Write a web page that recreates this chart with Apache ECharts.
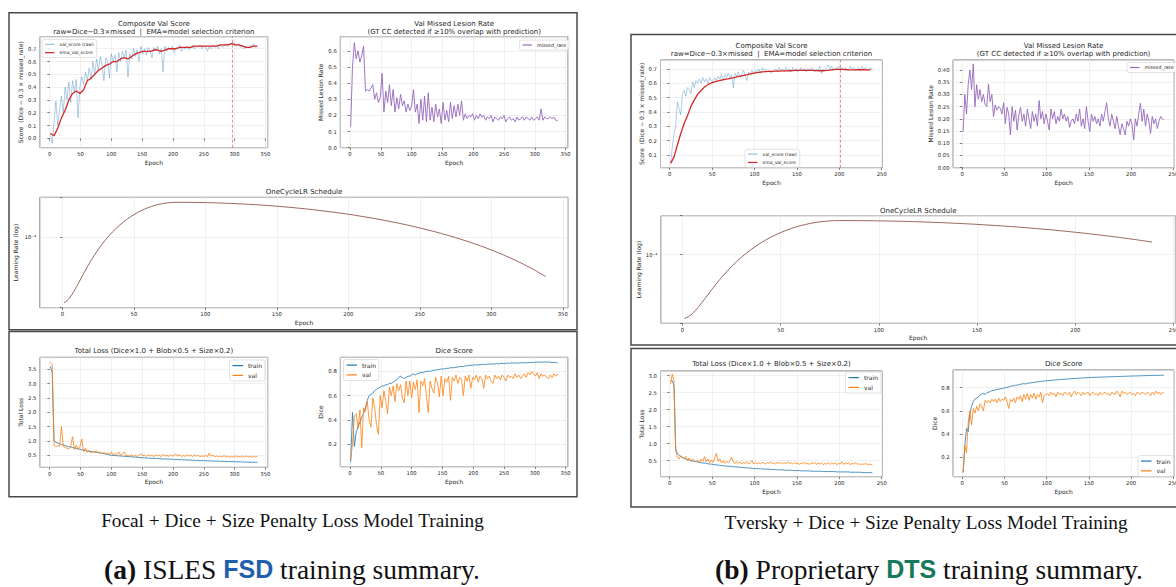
<!DOCTYPE html>
<html>
<head>
<meta charset="utf-8">
<script src="https://cdn.jsdelivr.net/npm/echarts@6.0.0/dist/echarts.min.js"></script>
<style>
  html, body { margin: 0; padding: 0; background: #fff; }
  #chart { width: 1176px; height: 587px; }
</style>
</head>
<body>
<div id="chart"></div>
<script>
// ---------- (a) ISLES FSD: epochs 1..337, step 3 unless noted ----------
const aBestEpoch = 297
const aRawVal = [
  .03, -.04, .12, .29, .10, .22, .33, .20, .40, .30,
  .44, .28, .45, .36, .46, .16, .40, .48, .42, .52,
  .45, .55, .46, .60, .50, .62, .53, .64, .58, .45,
  .63, .60, .47, .66, .60, .65, .52, .67, .60, .68,
  .63, .69, .48, .66, .62, .70, .64, .69, .60, .72,
  .66, .70, .65, .71, .68, .63, .71, .69, .72, .66,
  .70, .52, .72, .68, .71, .69, .72, .67, .71, .70,
  .73, .68, .71, .70, .72, .69, .71, .73, .70, .72,
  .71, .73, .70, .72, .71, .68, .72, .70, .73, .71,
  .72, .70, .73, .71, .72, .74, .72, .73, .74, .75,
  .73, .72, .74, .71, .73, .70, .72, .71, .73, .72,
  .74, .71, .72
]
// step 6
const aEma = [
  .04, .02, .08, .16, .22, .30, .35, .37, .35, .38,
  .45, .47, .50, .53, .55, .57, .58, .60, .60, .62,
  .63, .62, .64, .66, .67, .68, .68, .68, .69, .69,
  .68, .69, .70, .70, .70, .71, .71, .71, .71, .72,
  .72, .72, .72, .72, .72, .72, .73, .73, .73, .74,
  .73, .73, .72, .71, .71, .72, .72
]
const aMissed = [
  .13, .50, .65, .55, .60, .53, .57, .63, .35, .36,
  .35, .37, .39, .30, .34, .28, .31, .46, .22, .35,
  .28, .39, .26, .36, .22, .31, .24, .33, .26, .29,
  .22, .27, .23, .26, .36, .22, .27, .15, .30, .17,
  .32, .16, .34, .17, .25, .16, .27, .19, .24, .15,
  .28, .17, .23, .16, .28, .18, .26, .19, .27, .20,
  .29, .17, .21, .18, .20, .19, .21, .17, .20, .18,
  .21, .19, .20, .17, .19, .18, .20, .16, .19, .18,
  .17, .19, .18, .20, .16, .18, .19, .17, .18, .16,
  .19, .17, .18, .19, .17, .19, .18, .17, .19, .17,
  .18, .19, .17, .24, .17, .19, .18, .18, .19, .18,
  .19, .17, .165
]
const aTrainLoss = [
  3.60, 3.38, 1.00, .95, .93, .90, .88, .86, .84, .82,
  .80, .79, .77, .76, .74, .72, .71, .69, .68, .67,
  .65, .64, .63, .62, .61, .60, .59, .58, .57, .56,
  .545, .53, .515, .50, .495, .49, .485, .48, .475, .47,
  .465, .46, .455, .45, .445, .44, .435, .43, .425, .42,
  .415, .41, .405, .40, .397, .394, .391, .388, .385, .381,
  .378, .375, .372, .37, .366, .363, .36, .357, .354, .351,
  .348, .345, .342, .339, .336, .333, .33, .328, .325, .322,
  .32, .317, .315, .312, .31, .307, .305, .303, .30, .298,
  .296, .294, .292, .29, .288, .286, .284, .282, .28, .278,
  .276, .274, .272, .27, .268, .266, .264, .262, .26, .258,
  .256, .254, .252
]
const aValLoss = [
  3.75, 3.68, .85, .80, .83, .82, 1.50, .80, .78, .75,
  .72, .80, 1.15, .70, .85, .72, .80, 1.07, .62, .75,
  .60, .68, .58, .65, .60, .66, .58, .62, .55, .60,
  .55, .58, .52, .62, .50, .58, .52, .62, .50, .55,
  .62, .48, .50, .47, .52, .46, .50, .45, .52, .55,
  .48, .50, .46, .52, .47, .50, .45, .52, .48, .50,
  .45, .54, .47, .50, .46, .52, .47, .50, .55, .47,
  .52, .45, .50, .46, .52, .47, .50, .45, .52, .47,
  .50, .45, .48, .46, .50, .45, .58, .47, .50, .45,
  .48, .44, .47, .45, .49, .44, .47, .43, .46, .44,
  .48, .43, .46, .44, .47, .43, .48, .44, .46, .43,
  .47, .44, .46
]
const aTrainDice = [
  .05, .46, .18, .30, .34, .38, .42, .45, .50, .56,
  .60, .61, .62, .64, .65, .66, .67, .68, .68, .69,
  .69, .70, .70, .71, .72, .73, .75, .76, .75, .74,
  .75, .76, .76, .77, .78, .77, .78, .785, .79, .79,
  .795, .80, .80, .80, .805, .81, .81, .815, .815, .82,
  .82, .82, .825, .825, .83, .83, .83, .835, .835, .84,
  .84, .84, .845, .845, .85, .85, .85, .855, .85, .855,
  .855, .855, .86, .855, .86, .86, .86, .862, .86, .865,
  .86, .865, .865, .865, .865, .87, .865, .87, .868, .87,
  .868, .87, .87, .872, .87, .872, .87, .875, .872, .875,
  .875, .878, .875, .878, .875, .878, .875, .878, .875, .872,
  .875, .872, .87
]
const aValDice = [
  .07, .20, .43, .45, .33, .48, .17, .50, .47, .55,
  .40, .34, .58, .50, .36, .28, .60, .50, .64, .55,
  .45, .67, .60, .68, .55, .70, .64, .69, .58, .54,
  .72, .60, .72, .58, .71, .65, .73, .46, .72, .68,
  .74, .60, .46, .72, .66, .62, .75, .70, .59, .76,
  .60, .74, .71, .76, .56, .75, .72, .77, .70, .75,
  .73, .60, .76, .72, .77, .66, .75, .73, .77, .71,
  .76, .74, .66, .77, .74, .76, .72, .70, .77, .74,
  .76, .73, .77, .75, .72, .77, .75, .76, .74, .78,
  .75, .77, .74, .76, .78, .75, .79, .77, .80, .78,
  .76, .79, .74, .78, .76, .77, .75, .74, .77, .75,
  .78, .76, .78
]
const aLrEpochs = [1, 3, 5, 8, 10, 12, 15, 18, 20, 25, 30, 35, 40, 45, 50, 55, 60, 65, 70, 75, 80,
  90, 100, 110, 120, 130, 140, 150, 160, 170, 180, 190, 200, 210, 220, 230, 240, 250, 260, 270,
  280, 290, 300, 310, 320, 330, 338]
const aLr = [1.62e-5, 1.70e-5, 1.85e-5, 2.22e-5, 2.56e-5, 2.96e-5, 3.70e-5, 4.57e-5, 5.23e-5,
  7.10e-5, 9.24e-5, 1.155e-4, 1.396e-4, 1.636e-4, 1.868e-4, 2.081e-4, 2.269e-4, 2.422e-4,
  2.536e-4, 2.606e-4, 2.63e-4, 2.624e-4, 2.607e-4, 2.579e-4, 2.539e-4, 2.489e-4, 2.429e-4,
  2.358e-4, 2.278e-4, 2.192e-4, 2.095e-4, 1.994e-4, 1.885e-4, 1.772e-4, 1.655e-4, 1.535e-4,
  1.414e-4, 1.29e-4, 1.168e-4, 1.046e-4, 9.28e-5, 8.12e-5, 7.0e-5, 5.95e-5, 4.95e-5, 4.03e-5,
  3.35e-5]

// ---------- (b) Proprietary DTS: epochs 1..239, step 2 unless noted ----------
const bBestEpoch = 201
const bRawVal = [
  .05, .15, .25, .30, .47, .42, .38, .53, .55, .51,
  .57, .56, .53, .61, .57, .62, .60, .63, .60, .64,
  .61, .63, .60, .64, .62, .61, .64, .62, .65, .63,
  .66, .62, .66, .64, .67, .64, .66, .57, .67, .65,
  .68, .64, .67, .69, .65, .62, .68, .66, .69, .67,
  .69, .68, .70, .67, .71, .69, .70, .68, .69, .67,
  .68, .69, .70, .68, .71, .69, .70, .68, .71, .69,
  .70, .68, .71, .69, .70, .68, .69, .71, .69, .70,
  .68, .70, .69, .71, .70, .68, .70, .69, .72, .67,
  .70, .69, .71, .73, .70, .72, .69, .71, .70, .72,
  .70, .71, .69, .71, .70, .69, .72, .70, .71, .69,
  .70, .71, .69, .72, .70, .71, .69, .70, .71, .69
]
// step 4
const bEma = [
  .042, .085, .17, .25, .32, .375, .44, .485, .525, .55,
  .575, .59, .603, .61, .617, .622, .627, .632, .637, .642,
  .648, .653, .658, .663, .668, .673, .677, .68, .682, .683,
  .684, .685, .686, .687, .687, .688, .689, .69, .69, .69,
  .69, .69, .69, .689, .688, .688, .69, .693, .696, .698,
  .698, .697, .695, .694, .694, .695, .695, .695, .694, .694
]
const bMissed = [
  .148, .30, .22, .34, .40, .32, .425, .25, .34, .28,
  .32, .27, .30, .26, .25, .343, .27, .30, .21, .257,
  .236, .25, .243, .22, .266, .18, .247, .22, .134, .25,
  .19, .236, .154, .216, .247, .19, .22, .17, .24, .20,
  .16, .23, .19, .22, .17, .275, .20, .23, .18, .22,
  .19, .154, .24, .20, .23, .18, .21, .19, .24, .20,
  .22, .19, .21, .165, .19, .20, .18, .22, .19, .24,
  .17, .20, .16, .25, .19, .148, .22, .19, .21, .18,
  .20, .17, .22, .19, .23, .266, .20, .17, .22, .19,
  .16, .21, .17, .135, .18, .16, .134, .19, .17, .20,
  .18, .113, .20, .17, .22, .264, .19, .24, .17, .22,
  .19, .14, .21, .18, .20, .16, .19, .21, .20, .195
]
const bTrainLoss = [
  2.85, 2.85, 2.70, .85, .72, .66, .62, .59, .57, .55,
  .53, .52, .50, .49, .48, .47, .46, .45, .44, .43,
  .43, .42, .41, .40, .40, .39, .38, .38, .37, .36,
  .36, .35, .35, .34, .34, .33, .33, .32, .32, .31,
  .31, .31, .30, .30, .29, .29, .29, .28, .28, .27,
  .27, .27, .26, .26, .26, .25, .25, .25, .25, .24,
  .24, .24, .24, .23, .23, .23, .23, .22, .22, .22,
  .22, .22, .21, .21, .21, .21, .21, .20, .20, .20,
  .20, .20, .20, .19, .19, .19, .19, .19, .19, .19,
  .18, .18, .18, .18, .18, .18, .18, .18, .17, .17,
  .17, .17, .17, .17, .17, .17, .16, .16, .16, .16,
  .16, .16, .16, .15, .15, .15, .15, .15, .15, .14
]
const bValLoss = [
  2.75, 3.05, 2.85, .80, .60, .55, .65, .60, .55, .62,
  .50, .58, .48, .55, .50, .47, .52, .45, .55, .48,
  .62, .47, .55, .44, .52, .45, .58, .72, .48, .55,
  .43, .50, .42, .48, .44, .50, .60, .46, .42, .48,
  .43, .46, .40, .45, .42, .47, .40, .44, .50, .41,
  .45, .40, .44, .41, .46, .42, .40, .45, .42, .47,
  .41, .44, .40, .46, .42, .45, .40, .44, .41, .47,
  .42, .44, .40, .45, .41, .43, .39, .44, .41, .46,
  .40, .43, .38, .44, .41, .45, .39, .43, .40, .44,
  .38, .42, .40, .45, .39, .43, .40, .44, .38, .42,
  .40, .47, .39, .43, .40, .44, .38, .42, .40, .44,
  .39, .42, .37, .41, .39, .42, .38, .40, .39, .37
]
const bTrainDice = [
  .07, .30, .45, .42, .58, .64, .68, .70, .71, .72,
  .735, .745, .75, .74, .755, .76, .765, .775, .775, .78,
  .785, .785, .79, .79, .795, .80, .80, .805, .81, .815,
  .815, .82, .82, .825, .83, .83, .835, .83, .835, .84,
  .84, .842, .845, .847, .85, .85, .852, .855, .855, .857,
  .86, .86, .862, .862, .865, .865, .867, .868, .87, .87,
  .872, .873, .874, .875, .876, .877, .878, .879, .88, .881,
  .882, .883, .884, .885, .886, .886, .887, .888, .888, .889,
  .889, .89, .89, .891, .891, .892, .892, .893, .893, .894,
  .894, .895, .895, .896, .896, .897, .897, .898, .898, .899,
  .899, .90, .90, .90, .901, .901, .902, .902, .903, .903,
  .903, .904, .904, .905, .905, .905, .906, .906, .906, .905
]
const bValDice = [
  .07, .30, .24, .50, .60, .48, .62, .58, .64, .60,
  .66, .64, .60, .69, .67, .69, .67, .70, .68, .70,
  .67, .71, .68, .70, .69, .72, .68, .62, .70, .68,
  .71, .67, .72, .70, .73, .68, .74, .70, .75, .69,
  .74, .71, .75, .70, .74, .72, .76, .67, .73, .74,
  .75, .73, .76, .74, .75, .72, .76, .74, .75, .73,
  .76, .75, .74, .76, .72, .75, .77, .74, .76, .75,
  .73, .76, .74, .75, .76, .73, .75, .76, .74, .75,
  .73, .76, .74, .75, .76, .74, .75, .73, .76, .75,
  .74, .77, .75, .72, .77, .75, .76, .74, .75, .76,
  .74, .75, .73, .76, .75, .74, .76, .75, .74, .76,
  .75, .73, .76, .74, .77, .75, .76, .74, .76, .75
]
const bLrEpochs = [1, 3, 5, 8, 10, 12, 15, 18, 20, 25, 30, 35, 40, 45, 50, 55, 60, 65, 70, 75, 80,
  90, 100, 110, 120, 130, 140, 150, 160, 170, 180, 190, 200, 210, 220, 230, 239]
const bLr = [1.62e-5, 1.70e-5, 1.85e-5, 2.22e-5, 2.56e-5, 2.96e-5, 3.70e-5, 4.57e-5, 5.23e-5,
  7.10e-5, 9.24e-5, 1.155e-4, 1.396e-4, 1.636e-4, 1.868e-4, 2.081e-4, 2.269e-4, 2.422e-4,
  2.536e-4, 2.606e-4, 2.63e-4, 2.624e-4, 2.607e-4, 2.579e-4, 2.539e-4, 2.489e-4, 2.429e-4,
  2.358e-4, 2.278e-4, 2.192e-4, 2.095e-4, 1.994e-4, 1.885e-4, 1.772e-4, 1.655e-4, 1.535e-4,
  1.426e-4]

const FONT = 'DejaVu Sans'
const INK = '#262626'
const BLUE = '#1f77b4', ORANGE = '#ff7f0e', RED = '#d62728', PURPLE = '#9467bd', BROWN = '#8c564b'
const RAW_BLUE = 'rgba(31,119,180,0.45)'

const pairs = (start, step, vals) => vals.map((v, i) => [start + i * step, v])
const zip = (xs, vals) => xs.map((x, i) => [x, vals[i]])
const onStep = (v, step) => Math.abs(v / step - Math.round(v / step)) < 1e-6

const grid = [], xAxis = [], yAxis = [], series = [], title = [], legend = []

const tick = { show: true, length: 2.4, lineStyle: { color: '#333', width: 0.6 } }
const split = { show: true, lineStyle: { color: '#e6e6e6', width: 0.6 } }
const nameStyle = { fontFamily: FONT, fontSize: 6, color: INK }

function addPanel(p) {
  const gi = grid.length
  grid.push({
    left: p.rect[0], top: p.rect[1], width: p.rect[2], height: p.rect[3],
    show: true, borderColor: '#3a3a3a', borderWidth: 0.7, backgroundColor: 'rgba(0,0,0,0)',
    containLabel: false, outerBoundsMode: 'none',
  })
  xAxis.push({
    type: 'value', gridIndex: gi, min: p.x[0], max: p.x[1], minInterval: 50, maxInterval: 50,
    name: 'Epoch', nameLocation: 'middle', nameGap: 11.5, nameTextStyle: nameStyle,
    axisLine: { show: false }, axisTick: tick, splitLine: split,
    axisLabel: {
      fontFamily: FONT, fontSize: 5.3, color: INK, margin: 4.2, interval: 0,
      showMinLabel: onStep(p.x[0], 50), showMaxLabel: onStep(p.x[1], 50),
    },
  })
  const y = {
    gridIndex: gi, name: p.yName, nameLocation: 'middle', nameGap: p.yGap, nameTextStyle: nameStyle,
    axisLine: { show: false }, axisTick: tick, splitLine: split,
  }
  if (p.log) {
    Object.assign(y, {
      type: 'log', logBase: 10, min: p.y[0], max: p.y[1],
      axisLabel: {
        fontFamily: FONT, fontSize: 5.3, color: INK, margin: 3.5,
        formatter: (v) => (Math.abs(Math.log10(v) + 4) < 0.01 ? '10⁻⁴' : ''),
      },
    })
  } else {
    const [min, max, step, dec] = p.y
    Object.assign(y, {
      type: 'value', min, max, minInterval: step, maxInterval: step,
      axisLabel: {
        fontFamily: FONT, fontSize: 5.3, color: INK, margin: 3.5, interval: 0,
        showMinLabel: onStep(min, step), showMaxLabel: onStep(max, step),
        formatter: (v) => v.toFixed(dec),
      },
    })
  }
  yAxis.push(y)
  title.push({
    text: p.title, left: p.rect[0] + p.rect[2] / 2, top: p.titleTop, textAlign: 'center', padding: 0,
    textStyle: { fontFamily: FONT, fontSize: 7, fontWeight: 'normal', color: INK, lineHeight: 8.2 },
  })
  return gi
}

function addLine(gi, name, data, color, width, extra) {
  series.push(Object.assign({
    type: 'line', name, xAxisIndex: gi, yAxisIndex: gi, data, color,
    symbol: 'none', showSymbol: false, animation: false, silent: true,
    lineStyle: { color, width },
  }, extra || {}))
}

function bestLine(epoch) {
  return {
    symbol: ['none', 'none'], silent: true, animation: false, label: { show: false },
    lineStyle: { color: RED, type: [3, 2], width: 0.8, opacity: 0.65 },
    data: [{ xAxis: epoch }],
  }
}

function addLegend(names, left, top, fs, itemWidth) {
  legend.push({
    orient: 'vertical', left, top, data: names, icon: 'rect', itemWidth, itemHeight: 1.2,
    itemGap: 2.6, padding: [2, 3, 2, 3], selectedMode: false,
    backgroundColor: 'rgba(255,255,255,0.85)', borderColor: '#d0d0d0', borderWidth: 0.6, borderRadius: 2,
    textStyle: { fontFamily: FONT, fontSize: fs, color: INK, lineHeight: fs + 1.2 },
  })
}

// ----- panel (a) -----
const aX = [-15.8, 353.8]
let g = addPanel({ rect: [40, 36.7, 227.7, 111], x: aX, y: [-0.073, 0.794, 0.1, 1], titleTop: 20,
  title: 'Composite Val Score\nraw=Dice\u22120.3\u00d7missed  |  EMA=model selection criterion',
  yName: 'Score  (Dice \u2212 0.3 \u00d7 missed_rate)', yGap: 16.5 })
addLine(g, 'val_score (raw)', pairs(1, 3, aRawVal), RAW_BLUE, 0.8)
addLine(g, 'ema_val_score', pairs(1, 6, aEma), RED, 1.3, { markLine: bestLine(aBestEpoch) })
addLegend(['val_score (raw)', 'ema_val_score'], 42, 39.5, 4.5, 9.5)

g = addPanel({ rect: [340.3, 36.7, 227.7, 111], x: aX, y: [0, 0.687, 0.1, 1], titleTop: 20,
  title: 'Val Missed Lesion Rate\n(GT CC detected if \u226510% overlap with prediction)',
  yName: 'Missed Lesion Rate', yGap: 16.5 })
addLine(g, 'missed_rate', pairs(1, 3, aMissed), PURPLE, 0.9)
addLegend(['missed_rate'], 519.5, 40, 4.8, 9.5)

g = addPanel({ rect: [39.9, 197.3, 528.3, 110.4], x: aX, y: [1.41e-5, 3.02e-4], log: true, titleTop: 187.6,
  title: 'OneCycleLR Schedule', yName: 'Learning Rate (log)', yGap: 21 })
addLine(g, 'lr', zip(aLrEpochs, aLr), BROWN, 0.9, { smooth: 0.3 })

g = addPanel({ rect: [40, 357.3, 227.7, 110], x: aX, y: [0.081, 3.919, 0.5, 1], titleTop: 346.6,
  title: 'Total Loss (Dice\u00d71.0 + Blob\u00d70.5 + Size\u00d70.2)', yName: 'Total Loss', yGap: 16.5 })
addLine(g, 'train', pairs(1, 3, aTrainLoss), BLUE, 0.8)
addLine(g, 'val', pairs(1, 3, aValLoss), ORANGE, 0.8)
addLegend(['train', 'val'], 229.5, 360, 6, 10.5)

g = addPanel({ rect: [340.3, 357.3, 227.7, 109.4], x: aX, y: [0.0126, 0.916, 0.2, 1], titleTop: 346.6,
  title: 'Dice Score', yName: 'Dice', yGap: 16.5 })
addLine(g, 'train', pairs(1, 3, aTrainDice), BLUE, 0.8)
addLine(g, 'val', pairs(1, 3, aValDice), ORANGE, 0.8)
addLegend(['train', 'val'], 343.5, 359.5, 6, 10.5)

// ----- panel (b) -----
const bX = [-10.9, 250.9]
g = addPanel({ rect: [660.5, 60, 222, 107.7], x: bX, y: [0.0114, 0.763, 0.1, 1], titleTop: 41.9,
  title: 'Composite Val Score\nraw=Dice\u22120.3\u00d7missed  |  EMA=model selection criterion',
  yName: 'Score  (Dice \u2212 0.3 \u00d7 missed_rate)', yGap: 15 })
addLine(g, 'val_score (raw)', pairs(1, 2, bRawVal), RAW_BLUE, 0.8)
addLine(g, 'ema_val_score', pairs(1, 4, bEma), RED, 1.3, { markLine: bestLine(bBestEpoch) })
addLegend(['val_score (raw)', 'ema_val_score'], 745, 149.3, 4.5, 9.5)

g = addPanel({ rect: [953.1, 60, 221, 107.7], x: bX, y: [0, 0.441, 0.05, 2], titleTop: 41.8,
  title: 'Val Missed Lesion Rate\n(GT CC detected if \u226510% overlap with prediction)',
  yName: 'Missed Lesion Rate', yGap: 18.5 })
addLine(g, 'missed_rate', pairs(1, 2, bMissed), PURPLE, 0.9)
addLegend(['missed_rate'], 1127, 62.5, 4.8, 9.5)

g = addPanel({ rect: [661, 215.7, 514.4, 107.6], x: bX, y: [1.41e-5, 3.02e-4], log: true, titleTop: 206.6,
  title: 'OneCycleLR Schedule', yName: 'Learning Rate (log)', yGap: 20 })
addLine(g, 'lr', zip(bLrEpochs, bLr), BROWN, 0.9, { smooth: 0.3 })

g = addPanel({ rect: [660.5, 371, 222, 105.7], x: bX, y: [0.029, 3.138, 0.5, 1], titleTop: 359.9,
  title: 'Total Loss (Dice\u00d71.0 + Blob\u00d70.5 + Size\u00d70.2)', yName: 'Total Loss', yGap: 15 })
addLine(g, 'train', pairs(1, 2, bTrainLoss), BLUE, 0.8)
addLine(g, 'val', pairs(1, 2, bValLoss), ORANGE, 0.8)
addLegend(['train', 'val'], 845.5, 372, 6, 10.5)

g = addPanel({ rect: [953.1, 370, 221, 106.7], x: bX, y: [0.034, 0.951, 0.2, 1], titleTop: 359.9,
  title: 'Dice Score', yName: 'Dice', yGap: 14 })
addLine(g, 'train', pairs(1, 2, bTrainDice), BLUE, 0.8)
addLine(g, 'val', pairs(1, 2, bValDice), ORANGE, 0.8)
addLegend(['train', 'val'], 1138, 455.5, 6, 10.5)

// ----- captions -----
const SERIF = 'Liberation Serif'
const capSmall = { fontFamily: SERIF, fontSize: 19.3, fontWeight: 'normal', color: '#111' }
function bigCaption(label, before, tag, tagColor, after, cx) {
  title.push({
    text: `{b|${label}} ${before} {t|${tag}} ${after}`, left: cx, top: 555, textAlign: 'center', padding: 0,
    textStyle: {
      fontFamily: SERIF, fontSize: 27.5, fontWeight: 'normal', color: '#111',
      rich: {
        b: { fontFamily: SERIF, fontSize: 27.5, fontWeight: 'bold', color: '#111' },
        t: { fontFamily: "'Liberation Sans Narrow', 'Liberation Sans'", fontSize: 25, fontWeight: 'bold', color: tagColor },
      },
    },
  })
}
title.push({ text: 'Focal + Dice + Size Penalty Loss Model Training', left: 292.5, top: 511, textAlign: 'center', padding: 0, textStyle: capSmall })
title.push({ text: 'Tversky + Dice + Size Penalty Loss Model Training', left: 926, top: 513, textAlign: 'center', padding: 0, textStyle: capSmall })
bigCaption('(a)', 'ISLES', 'FSD', '#1f5fae', 'training summary.', 292)
bigCaption('(b)', 'Proprietary', 'DTS', '#17785a', 'training summary.', 929)

const frame = { fill: 'none', stroke: '#4a4a4a', lineWidth: 1.5 }
const graphic = [
  { type: 'rect', shape: { x: 9, y: 12.7, width: 568, height: 317 }, style: frame, silent: true, z: -1 },
  { type: 'rect', shape: { x: 9, y: 331.5, width: 568, height: 165.3 }, style: frame, silent: true, z: -1 },
  { type: 'rect', shape: { x: 631, y: 34.5, width: 560, height: 310.5 }, style: frame, silent: true, z: -1 },
  { type: 'rect', shape: { x: 631, y: 348.5, width: 560, height: 158.5 }, style: frame, silent: true, z: -1 },
]

const chart = echarts.init(document.getElementById('chart'), null, { renderer: 'svg' })
chart.setOption({
  animation: false,
  backgroundColor: '#fff',
  textStyle: { fontFamily: FONT },
  title, grid, xAxis, yAxis, series, legend, graphic,
  tooltip: { show: false },
})

window.addEventListener('resize', () => {
  chart.resize()
})
</script>
</body>
</html>
